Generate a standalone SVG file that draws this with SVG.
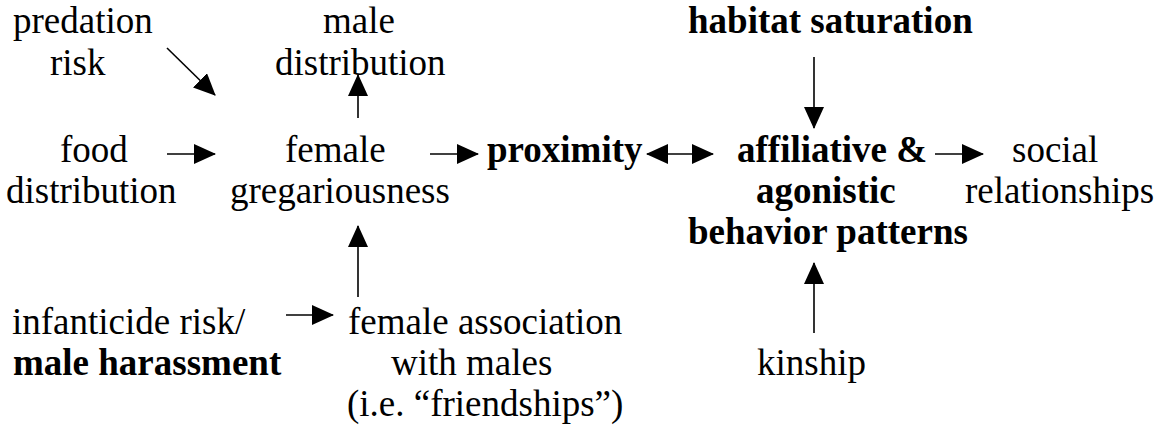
<svg xmlns="http://www.w3.org/2000/svg" width="1166" height="429" viewBox="0 0 1166 429">
<defs>
<marker id="ah" markerUnits="userSpaceOnUse" markerWidth="22" markerHeight="20" refX="21" refY="10" orient="auto-start-reverse">
<path d="M0,0 L22,10 L0,20 z" fill="#000"/>
</marker>
</defs>
<rect width="1166" height="429" fill="#fff"/>
<g id="predation-risk"><text font-family="Times New Roman" font-size="37" x="13" y="33">predation</text><text font-family="Times New Roman" font-size="37" x="50" y="75">risk</text></g>
<g id="male-distribution"><text font-family="Times New Roman" font-size="37" x="323" y="33">male</text><text font-family="Times New Roman" font-size="37" x="275" y="75">distribution</text></g>
<g id="habitat-saturation"><text font-family="Times New Roman" font-size="37" font-weight="bold" x="688" y="33">habitat saturation</text></g>
<g id="food-distribution"><text font-family="Times New Roman" font-size="37" x="60" y="162">food</text><text font-family="Times New Roman" font-size="37" x="6" y="203">distribution</text></g>
<g id="female-gregariousness"><text font-family="Times New Roman" font-size="37" x="285" y="162">female</text><text font-family="Times New Roman" font-size="37" x="230" y="203">gregariousness</text></g>
<g id="proximity"><text font-family="Times New Roman" font-size="37" font-weight="bold" x="487" y="162">proximity</text></g>
<g id="behavior-patterns"><text font-family="Times New Roman" font-size="37" font-weight="bold" x="737" y="162">affiliative &amp;</text><text font-family="Times New Roman" font-size="37" font-weight="bold" x="756" y="203">agonistic</text><text font-family="Times New Roman" font-size="37" font-weight="bold" x="688" y="244">behavior patterns</text></g>
<g id="social-relationships"><text font-family="Times New Roman" font-size="37" x="1012" y="162">social</text><text font-family="Times New Roman" font-size="37" x="965" y="203">relationships</text></g>
<g id="infanticide-risk"><text font-family="Times New Roman" font-size="37" x="12" y="334">infanticide risk/</text><text font-family="Times New Roman" font-size="37" font-weight="bold" x="13" y="375">male harassment</text></g>
<g id="female-association"><text font-family="Times New Roman" font-size="37" x="348" y="334">female association</text><text font-family="Times New Roman" font-size="37" x="391" y="375">with males</text><text font-family="Times New Roman" font-size="37" x="347" y="416">(i.e. &#8220;friendships&#8221;)</text></g>
<g id="kinship"><text font-family="Times New Roman" font-size="37" x="757" y="375">kinship</text></g>
<g id="connectors" stroke="#000" stroke-width="1.6" fill="none">
<line x1="167" y1="48" x2="215" y2="95" marker-end="url(#ah)"/>
<line x1="358" y1="118" x2="358" y2="75" marker-end="url(#ah)"/>
<line x1="814" y1="57" x2="814" y2="128" marker-end="url(#ah)"/>
<line x1="167" y1="154" x2="215" y2="154" marker-end="url(#ah)"/>
<line x1="430" y1="154" x2="478" y2="154" marker-end="url(#ah)"/>
<line x1="647" y1="154" x2="713" y2="154" marker-start="url(#ah)" marker-end="url(#ah)"/>
<line x1="935" y1="154" x2="983" y2="154" marker-end="url(#ah)"/>
<line x1="358" y1="297" x2="358" y2="226" marker-end="url(#ah)"/>
<line x1="286" y1="315" x2="333" y2="315" marker-end="url(#ah)"/>
<line x1="814" y1="333" x2="814" y2="263" marker-end="url(#ah)"/>
</g>
</svg>
